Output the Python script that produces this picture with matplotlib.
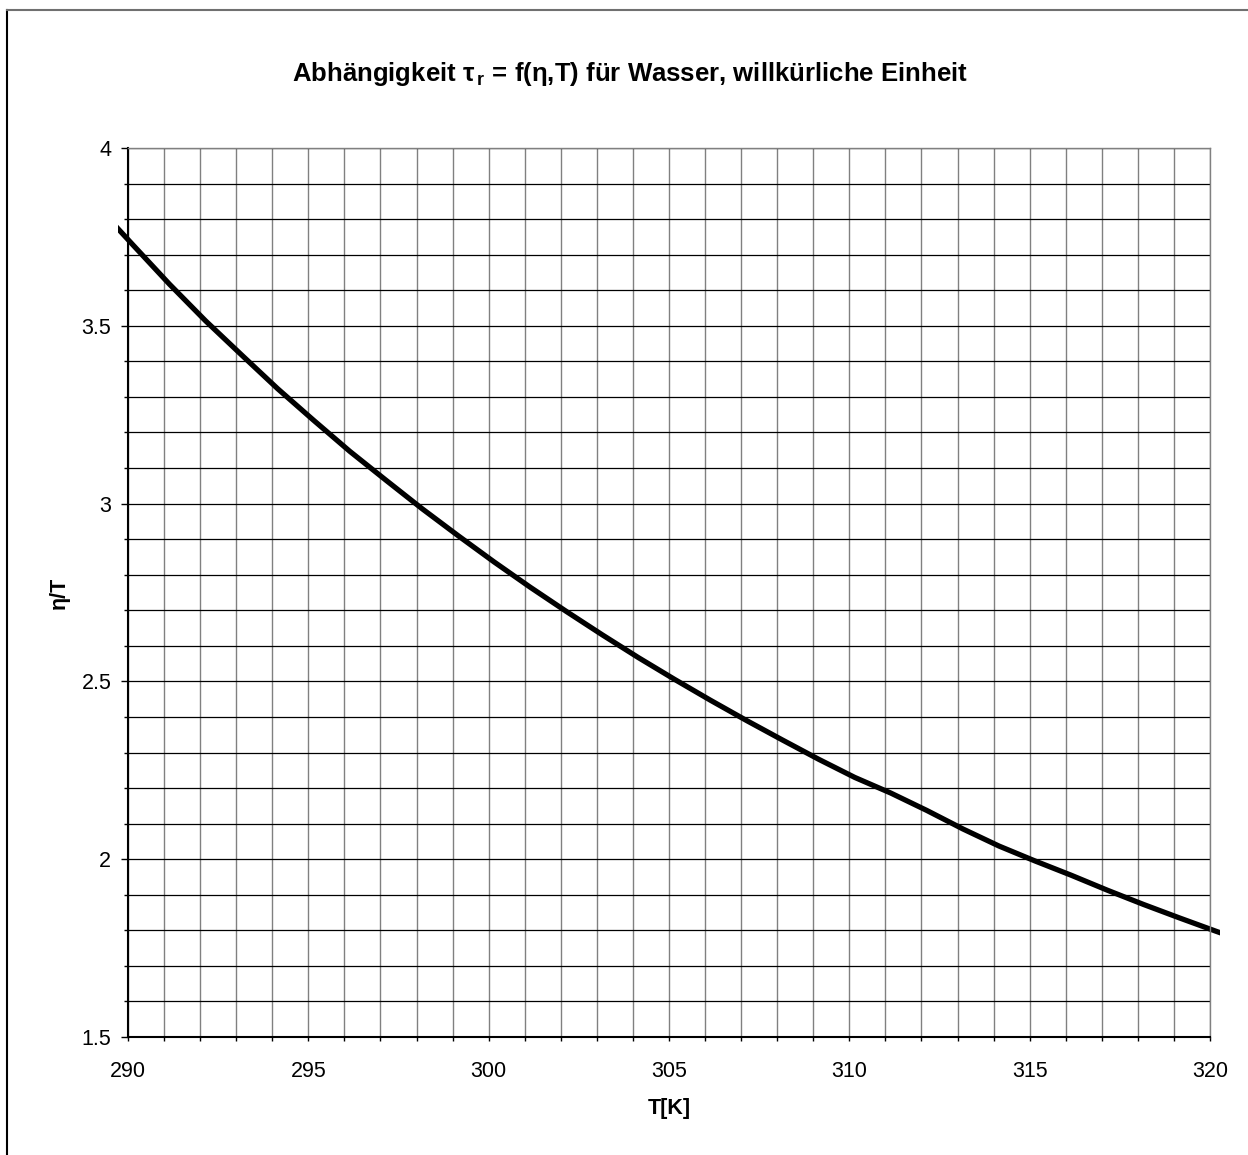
import matplotlib.pyplot as plt
from matplotlib.lines import Line2D
from matplotlib.patches import Rectangle
from matplotlib.ticker import MultipleLocator

plt.rcParams['font.family'] = ['Liberation Sans', 'DejaVu Sans']
plt.rcParams['mathtext.fontset'] = 'custom'
plt.rcParams['mathtext.rm'] = 'Liberation Sans:bold'

# eta/T of water (arbitrary units) against temperature in K
temp_k = [289.15, 290.15, 291.15, 292.15, 293.15, 294.15, 295.15, 296.15,
          297.15, 298.15, 299.15, 300.15, 301.15, 302.15, 303.15, 304.15,
          305.15, 306.15, 307.15, 308.15, 309.15, 310.15, 311.15, 312.15,
          313.15, 314.15, 315.15, 316.15, 317.15, 318.15, 319.15, 320.15,
          321.15]
eta_over_t = [3.836, 3.726, 3.617, 3.514, 3.418, 3.323, 3.234, 3.147,
              3.066, 2.986, 2.910, 2.836, 2.765, 2.697, 2.631, 2.567,
              2.506, 2.447, 2.390, 2.335, 2.281, 2.230, 2.186, 2.137,
              2.085, 2.037, 1.995, 1.955, 1.913, 1.873, 1.835, 1.798,
              1.762]

fig = plt.figure(figsize=(12.48, 11.55), dpi=100)
ax = fig.add_axes([128 / 1248, 118 / 1155, 1082 / 1248, 889 / 1155])

ax.set_xlim(290, 320)
ax.set_ylim(1.5, 4)
ax.xaxis.set_major_locator(MultipleLocator(5))
ax.xaxis.set_minor_locator(MultipleLocator(1))
ax.yaxis.set_major_locator(MultipleLocator(0.5))
ax.yaxis.set_minor_locator(MultipleLocator(0.1))

ax.grid(True, which='both', axis='x', color='#808080', lw=1.0)
ax.grid(True, which='both', axis='y', color='black', lw=0.9)
ax.set_axisbelow(True)

ax.tick_params(axis='y', which='major', direction='out', length=5, width=1, labelsize=15.5, pad=7)
ax.tick_params(axis='y', which='minor', direction='out', length=3, width=1)
ax.tick_params(axis='x', which='both', direction='out', length=3, width=1, labelsize=15.5, pad=14)
ax.yaxis.set_major_formatter(plt.FuncFormatter(lambda v, p: f'{v:g}'))

for side in ('left', 'bottom'):
    ax.spines[side].set_color('black')
    ax.spines[side].set_linewidth(1.5)
for side in ('top', 'right'):
    ax.spines[side].set_color('#808080')
    ax.spines[side].set_linewidth(1.0)

line, = ax.plot(temp_k, eta_over_t, color='black', lw=3.8,
                solid_capstyle='butt', solid_joinstyle='round')
clip = Rectangle((-0.009, 0), 1.018, 1, transform=ax.transAxes, visible=False)
ax.add_patch(clip)
line.set_clip_path(clip)

fig.text(0.505, 1 - 74 / 1155,
         'Abhängigkeit τ$_{\\mathrm{\\,r}}$ = f(η,T) für Wasser, willkürliche Einheit',
         ha='center', va='center', fontsize=18.5, fontweight='bold')
ax.set_xlabel('T[K]', fontsize=15.5, fontweight='bold', labelpad=12)
ax.set_ylabel('η/T', fontsize=15.5, fontweight='bold')
ax.yaxis.set_label_coords(-0.054, 0.5)

# outer chart frame (left and top edges)
fig.add_artist(Line2D([7 / 1248, 7 / 1248], [0, 1 - 10 / 1155], color='black', lw=1.5))
fig.add_artist(Line2D([7 / 1248, 1], [1 - 10 / 1155, 1 - 10 / 1155], color='#707070', lw=1.5))

fig.savefig('out.png', dpi=100)
